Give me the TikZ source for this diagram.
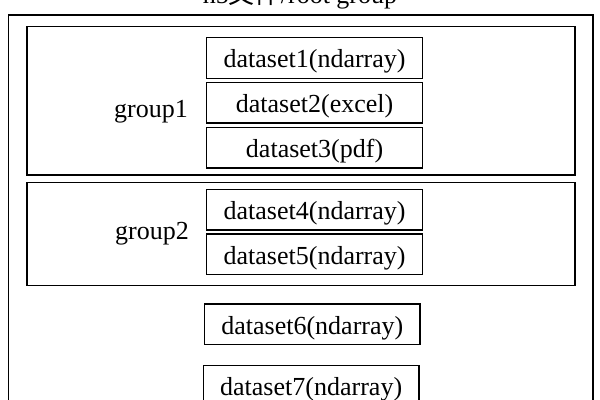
\documentclass[tikz,border=0pt]{standalone}
\usepackage{fontspec}
\setmainfont{Liberation Serif}
\newfontfamily\cjk{Noto Sans CJK SC}
\begin{document}
\begin{tikzpicture}
          [x=0.025cm,y=-0.025cm,line width=1.1pt,
           every node/.style={font=\fontsize{18.5}{22}\selectfont},
           groupbox/.style={draw, rectangle, inner sep=0pt},
           databox/.style={draw, rectangle, inner sep=0pt, text height=17.2pt, text depth=3pt,
                           minimum width=5.4cm, minimum height=1.015cm}]
        \useasboundingbox (0,0) rectangle (600,400);
        \node[groupbox, minimum width=14.61cm, minimum height=10.25cm] (root) at (300.75,220) {};
        \node[anchor=base] (title) at (300,4) {h5{\cjk 文件}/root group};

        \node[groupbox, minimum width=13.7cm, minimum height=3.71cm] (g1) at (301,100.85) {};
        \node[groupbox, minimum width=13.7cm, minimum height=2.565cm] (g2) at (301,234) {};
        \node[anchor=base] (l1) at (151,118) {group1};
        \node[anchor=base] (l2) at (152,240) {group2};

        \node[databox] (d1) at (314.6,58) {dataset1(ndarray)};
        \node[databox] (d2) at (314.6,102.85) {dataset2(excel)};
        \node[databox] (d3) at (314.6,147.7) {dataset3(pdf)};
        \node[databox] (d4) at (314.6,209.65) {dataset4(ndarray)};
        \node[databox] (d5) at (314.6,254.35) {dataset5(ndarray)};
        \node[databox, minimum width=5.385cm] (d6) at (312.3,324.3) {dataset6(ndarray)};
        \node[databox, minimum width=5.385cm] (d7) at (311.15,385.6) {dataset7(ndarray)};
      \end{tikzpicture}
\end{document}
